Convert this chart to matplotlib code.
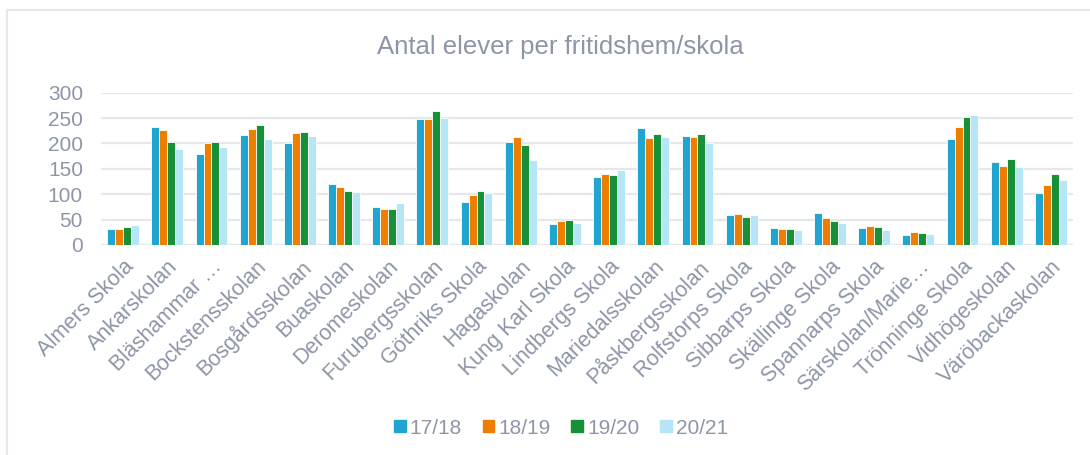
import numpy as np
import matplotlib
matplotlib.use("Agg")
import matplotlib.pyplot as plt
from matplotlib.lines import Line2D

plt.rcParams['font.family'] = ['Liberation Sans', 'DejaVu Sans']

schools = ["Almers Skola", "Ankarskolan", "Bläshammar …", "Bockstensskolan",
           "Bosgårdsskolan", "Buaskolan", "Deromeskolan", "Furubergsskolan",
           "Göthriks Skola", "Hagaskolan", "Kung Karl Skola", "Lindbergs Skola",
           "Mariedalsskolan", "Påskbergsskolan", "Rolfstorps Skola", "Sibbarps Skola",
           "Skällinge Skola", "Spannarps Skola", "Särskolan/Marie…", "Trönninge Skola",
           "Vidhögeskolan", "Väröbackaskolan"]
years = ["17/18", "18/19", "19/20", "20/21"]

y1718 = [31, 232, 180, 216, 201, 121, 74, 249, 84, 203, 41, 133,
         230, 214, 59, 33, 63, 33, 20, 209, 163, 102]
y1819 = [31, 227, 201, 228, 220, 115, 70, 249, 99, 212, 48, 140,
         210, 212, 62, 31, 53, 37, 26, 232, 155, 119]
y1920 = [35, 203, 202, 237, 222, 106, 70, 264, 106, 197, 49, 138,
         218, 219, 55, 31, 47, 36, 24, 253, 169, 140]
y2021 = [39, 189, 193, 208, 215, 104, 82, 251, 102, 167, 43, 147,
         212, 200, 60, 29, 43, 30, 22, 257, 153, 129]

colors = ["#1fa5cf", "#ee7e00", "#179037", "#b6e5f5"]
txt = "#8d96a7"
grid_c = "#e4e7eb"

fig = plt.figure(figsize=(10.9, 4.55), dpi=100)
ax = fig.add_axes([101 / 1090, 1 - 245 / 455, 972 / 1090, 152.3 / 455])

x = np.arange(len(schools))
w = 0.18
series = [y1718, y1819, y1920, y2021]
for i, vals in enumerate(series):
    ax.bar(x + (i - 1.5) * w, vals, width=w, color=colors[i],
           edgecolor="white", linewidth=0.6, label=years[i], zorder=3)

ax.set_xlim(-0.5, len(schools) - 0.5)
ax.set_ylim(0, 300)
ax.set_yticks(range(0, 301, 50))
ax.yaxis.grid(True, color=grid_c, linewidth=1.6, zorder=0)
for s in ax.spines.values():
    s.set_visible(False)
ax.axhline(0, color=grid_c, linewidth=1.6, zorder=1)
ax.tick_params(axis="both", length=0, colors=txt, labelsize=15)
ax.tick_params(axis="y", pad=13)
ax.set_xticks(x)
ax.set_xticklabels(schools, rotation=45, ha="right", rotation_mode="anchor",
                   fontsize=15.5, color=txt)
ax.tick_params(axis="x", pad=8)

fig.text(560 / 1090, 1 - 47 / 455, "Antal elever per fritidshem/skola",
         ha="center", va="center", fontsize=18.5, color=txt)

handles = [plt.Rectangle((0, 0), 1, 1, color=c) for c in colors]
fig.legend(handles, years, loc="center", bbox_to_anchor=(561 / 1090, 1 - 428 / 455),
           ncol=4, frameon=False, fontsize=15, labelcolor=txt,
           handlelength=0.55, handleheight=0.55, handletextpad=0.2,
           columnspacing=1.0)

# outer chart frame (left and top edges visible)
fig.add_artist(Line2D([7 / 1090, 7 / 1090], [0, 1 - 10 / 455], color=grid_c,
                      linewidth=1.5, transform=fig.transFigure))
fig.add_artist(Line2D([7 / 1090, 1], [1 - 10 / 455, 1 - 10 / 455], color=grid_c,
                      linewidth=1.5, transform=fig.transFigure))

fig.savefig("out.png", dpi=100)
